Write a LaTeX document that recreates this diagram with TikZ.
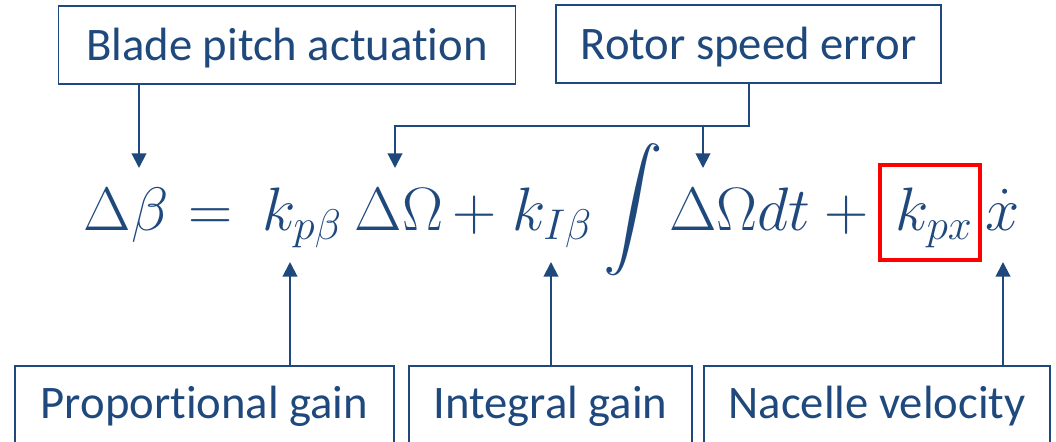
\RequirePackage{fix-cm}
\documentclass[tikz,border=0pt]{standalone}
\usepackage{graphicx}
\usepackage{fontspec}
\setmainfont{Carlito}[Ligatures=CommonOff]
\usetikzlibrary{arrows.meta}
\definecolor{nblue}{RGB}{31,73,125}
\definecolor{nred}{RGB}{255,0,0}
\begin{document}
\begin{tikzpicture}[x=0.75pt,y=-0.75pt,
  box/.style={draw=nblue, line width=1.4pt, text=nblue, font=\fontsize{35}{40}\selectfont, inner xsep=0pt, inner ysep=0pt},
  topbox/.style={box, minimum height=58.5pt, text height=27pt, text depth=3pt},
  botbox/.style={box, minimum height=60pt, text height=22pt, text depth=4pt},
  arr/.style={draw=nblue, line width=1.5pt, -{Triangle[length=11pt,width=11pt]}},
  eq/.style={text=nblue, inner sep=0pt, anchor=base, font=\fontsize{46}{50}\selectfont},
  hl/.style={draw=nred, line width=3pt}]
\useasboundingbox (0,0) rectangle (1056,442);
\clip (0,0) rectangle (1056,442);
% label boxes
\node[topbox, minimum width={457*0.75pt}] (blade) at (287,45) {Blade pitch actuation};
\node[topbox, minimum width={385*0.75pt}] (rotor) at (748.5,44) {Rotor speed error};
\node[botbox, minimum width={379*0.75pt}] (prop) at (204.5,406) {Proportional gain};
\node[botbox, minimum width={283*0.75pt}] (integ) at (550.5,406) {Integral gain};
\node[botbox, minimum width={346*0.75pt}] (nac) at (877,406) {Nacelle velocity};
% equation pieces
\node[eq] (e1) at (126,230) {$\Delta\beta$};
\node[eq] (e2) at (211,230) {$=$};
\node[eq] (e3) at (302,230) {$k_{p\beta}$};
\node[eq] (e4) at (399,230) {$\Delta\Omega$};
\node[eq] (e5) at (475,230) {$+$};
\node[eq] (e6) at (552,230) {$k_{I\beta}$};
\node[eq, anchor=center] (e7) at (633,210.5) {\resizebox*{!}{101pt}{$\displaystyle\int$}};
\node[eq] (e8) at (740,230) {$\Delta\Omega dt$};
\node[eq] (e9) at (847,230) {$+$};
\node[eq] (e10) at (934,230) {$k_{px}$};
\node[eq] (e11) at (1003,230) {$\dot{x}$};
% highlight round k_px
\draw[hl] (880,165) rectangle (980,260);
% arrow tips
\coordinate (t1) at (139,168);
\coordinate (t2) at (395,168);
\coordinate (t3) at (703,168);
\coordinate (h) at (0,126);
\coordinate (b1) at (290,262);
\coordinate (b2) at (551,262);
\coordinate (b3) at (1003,262);
% connectors
\draw[arr] (blade.south -| t1) -- (t1);
\draw[arr] (rotor.south) -- (rotor.south |- h) -| (t2);
\draw[arr] (t3 |- h) -- (t3);
\draw[arr] (prop.north -| b1) -- (b1);
\draw[arr] (integ.north -| b2) -- (b2);
\draw[arr] (nac.north -| b3) -- (b3);
\end{tikzpicture}
\end{document}
